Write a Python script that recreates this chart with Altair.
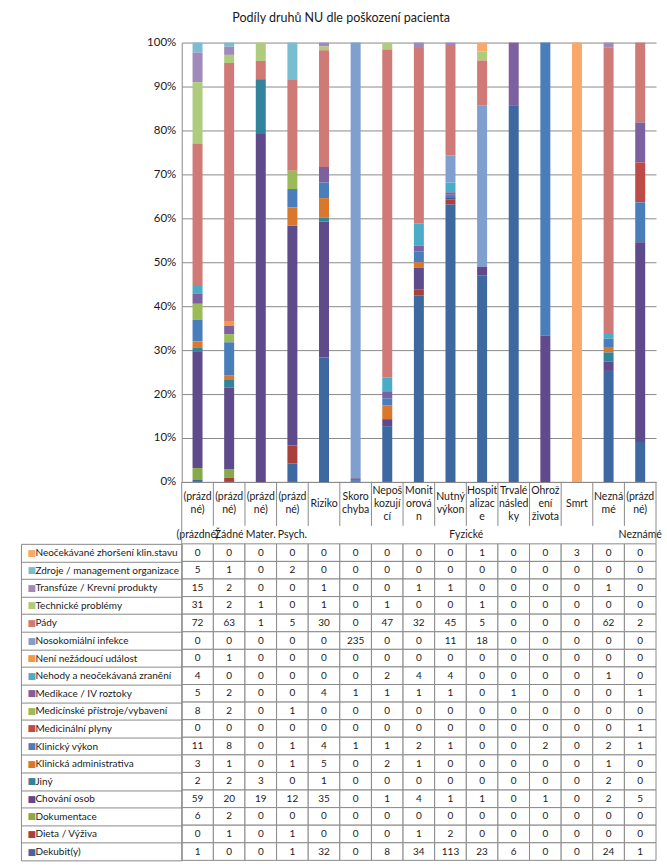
import altair as alt
import pandas as pd

TITLE = "Podíly druhů NU dle poškození pacienta"

# inner (level-1) category labels, wrapped as in the original
INNER_LABEL_LINES = [
    ["(prázd", "né)"], ["(prázd", "né)"], ["(prázd", "né)"], ["(prázd", "né)"],
    ["Riziko"], ["Skoro", "chyba"], ["Nepoš", "kozují", "cí"], ["Monit", "orová", "n"],
    ["Nutný", "výkon"], ["Hospit", "alizac", "e"], ["Trvalé", "násled", "ky"],
    ["Ohrož", "ení", "života"], ["Smrt"], ["Nezná", "mé"], ["(prázd", "né)"],
]
# outer (level-2) category labels
CATEGORY_OUTER = ["(prázdné)", "Žádné", "Mater.", "Psych."] + ["Fyzické"] * 10 + ["Neznámé"]

# series, in table order (top of the stack first)
SERIES = [
    "Neočekávané zhoršení klin.stavu",
    "Zdroje / management organizace",
    "Transfúze / Krevní produkty",
    "Technické problémy",
    "Pády",
    "Nosokomiální infekce",
    "Není nežádoucí událost",
    "Nehody a neočekávaná zranění",
    "Medikace / IV roztoky",
    "Medicínské přístroje/vybavení",
    "Medicinální plyny",
    "Klinický výkon",
    "Klinická administrativa",
    "Jiný",
    "Chování osob",
    "Dokumentace",
    "Dieta / Výživa",
    "Dekubit(y)",
]
COLORS = [
    "#F9A86A", "#79BDD3", "#A08AB9", "#AFCB7E", "#D07A78", "#7F9FCF",
    "#F79646", "#4BACC6", "#7D60A0", "#9BBB59", "#BE4B48", "#4A7EBB",
    "#D9772D", "#31849B", "#5F4A8B", "#86A94A", "#A8403C", "#3E69A0",
]
COUNTS = [
    [0, 0, 0, 0, 0, 0, 0, 0, 0, 1, 0, 0, 3, 0, 0],
    [5, 1, 0, 2, 0, 0, 0, 0, 0, 0, 0, 0, 0, 0, 0],
    [15, 2, 0, 0, 1, 0, 0, 1, 1, 0, 0, 0, 0, 1, 0],
    [31, 2, 1, 0, 1, 0, 1, 0, 0, 1, 0, 0, 0, 0, 0],
    [72, 63, 1, 5, 30, 0, 47, 32, 45, 5, 0, 0, 0, 62, 2],
    [0, 0, 0, 0, 0, 235, 0, 0, 11, 18, 0, 0, 0, 0, 0],
    [0, 1, 0, 0, 0, 0, 0, 0, 0, 0, 0, 0, 0, 0, 0],
    [4, 0, 0, 0, 0, 0, 2, 4, 4, 0, 0, 0, 0, 1, 0],
    [5, 2, 0, 0, 4, 1, 1, 1, 1, 0, 1, 0, 0, 0, 1],
    [8, 2, 0, 1, 0, 0, 0, 0, 0, 0, 0, 0, 0, 0, 0],
    [0, 0, 0, 0, 0, 0, 0, 0, 0, 0, 0, 0, 0, 0, 1],
    [11, 8, 0, 1, 4, 1, 1, 2, 1, 0, 0, 2, 0, 2, 1],
    [3, 1, 0, 1, 5, 0, 2, 1, 0, 0, 0, 0, 0, 1, 0],
    [2, 2, 3, 0, 1, 0, 0, 0, 0, 0, 0, 0, 0, 2, 0],
    [59, 20, 19, 12, 35, 0, 1, 4, 1, 1, 0, 1, 0, 2, 5],
    [6, 2, 0, 0, 0, 0, 0, 0, 0, 0, 0, 0, 0, 0, 0],
    [0, 1, 0, 1, 0, 0, 0, 1, 2, 0, 0, 0, 0, 0, 0],
    [1, 0, 0, 1, 32, 0, 8, 34, 113, 23, 6, 0, 0, 24, 1],
]

NCOL = len(CATEGORY_OUTER)
COLS = list(range(NCOL))
GRID = "#8a8a8a"
TXT = "#1a1a1a"
FONT = "Lato"
LINE_H = 13        # line height of the wrapped category labels (px)
LABEL_ROW_H = 44   # height of the category label row (px)
FIRST_LINE = 9     # px from the top of the label row to the first of 3 lines

rows = []
for i, (s, vals) in enumerate(zip(SERIES, COUNTS)):
    for c, v in enumerate(vals):
        rows.append({"series": s, "col": c, "count": v, "stack_idx": len(SERIES) - 1 - i})
df = pd.DataFrame(rows)

label_df = pd.DataFrame({
    "center": [c + 0.5 for c in COLS],
    "text": ["|".join(l) for l in INNER_LABEL_LINES],
    # first line position, in line units, so that each block is vertically centred
    "first": [(3 - len(l)) / 2 for l in INNER_LABEL_LINES],
})
edges_all = pd.DataFrame({"pos": list(range(NCOL + 1))})

# groups of the outer level
groups = []
start = 0
for c in range(1, NCOL + 1):
    if c == NCOL or CATEGORY_OUTER[c] != CATEGORY_OUTER[start]:
        groups.append({"label": CATEGORY_OUTER[start], "center": (start + c) / 2})
        start = c
groups_df = pd.DataFrame(groups)
edges_df = pd.DataFrame({"pos": [0, NCOL]})

color_expr = ""
for s, col in zip(SERIES, COLORS):
    color_expr += f"datum.value === '{s}' ? '{col}' : "
color_expr += "'#000000'"

xscale = alt.Scale(domain=COLS, paddingInner=0, paddingOuter=0)
gscale = alt.Scale(domain=[0, NCOL], nice=False, zero=False)
line_scale = alt.Scale(domain=[-FIRST_LINE / LINE_H, (LABEL_ROW_H - FIRST_LINE) / LINE_H],
                       reverse=True, nice=False, zero=False)

bars = alt.Chart(df[df["count"] > 0]).mark_bar(width=10).encode(
    x=alt.X("col:O", scale=xscale,
            axis=alt.Axis(title=None, labels=False, ticks=False, domainColor=GRID)),
    y=alt.Y("count:Q", stack="normalize", scale=alt.Scale(domain=[0, 1], nice=False),
            axis=alt.Axis(title=None, format="%", values=[i / 10 for i in range(11)], grid=True,
                          gridColor=GRID, ticks=False, domainColor=GRID, labelFontSize=11.5,
                          labelPadding=6, labelColor=TXT, labelFont=FONT)),
    color=alt.Color("series:N", scale=alt.Scale(domain=SERIES, range=COLORS), legend=None),
    order=alt.Order("stack_idx:Q", sort="ascending"),
).properties(width=475, height=440)

label_row = alt.layer(
    alt.Chart(label_df).mark_text(fontSize=10.5, font=FONT, color=TXT, lineBreak="|",
                                  lineHeight=LINE_H, baseline="middle").encode(
        x=alt.X("center:Q", scale=gscale, axis=None),
        y=alt.Y("first:Q", scale=line_scale, axis=None),
        text="text:N",
    ),
    alt.Chart(edges_all).mark_rule(color=GRID).encode(
        x=alt.X("pos:Q", scale=gscale, axis=None),
    ),
).properties(width=475, height=LABEL_ROW_H)

group_row = alt.layer(
    alt.Chart(groups_df).mark_text(fontSize=10.5, font=FONT, color=TXT).encode(
        x=alt.X("center:Q", scale=gscale, axis=None),
        text="label:N",
    ),
    alt.Chart(edges_df).mark_rule(color=GRID).encode(
        x=alt.X("pos:Q", scale=gscale, axis=None),
    ),
).properties(width=475, height=18)

cells = alt.Chart(df).mark_rect(fill="white", stroke=GRID, strokeWidth=1).encode(
    x=alt.X("col:O", scale=xscale, axis=None),
    y=alt.Y("series:N", sort=SERIES,
            scale=alt.Scale(type="band", domain=SERIES, paddingInner=0, paddingOuter=0),
            axis=alt.Axis(title=None, orient="left", labelAlign="left", labelPadding=-14,
                          tickSize=161, tickBand="extent", tickColor=GRID, domainColor=GRID,
                          labelFontSize=10, labelColor=TXT, labelFont=FONT, labelLimit=300)),
)
values = alt.Chart(df).mark_text(fontSize=10, font=FONT, color=TXT).encode(
    x=alt.X("col:O", scale=xscale, axis=None),
    y=alt.Y("series:N", sort=SERIES,
            scale=alt.Scale(type="band", domain=SERIES, paddingInner=0, paddingOuter=0),
            axis=alt.Axis(title=None, orient="left", offset=161, labelExpr="'■'",
                          labelColor={"expr": color_expr}, labelAlign="left", labelPadding=-6,
                          ticks=False, domainColor=GRID, labelFontSize=9, labelFont="DejaVu Sans")),
    text="count:Q",
)
table = alt.layer(cells, values).resolve_scale(y="independent").resolve_axis(y="independent").properties(
    width=475, height=317)

chart = alt.vconcat(bars, label_row, group_row, table, spacing=0, bounds="flush").properties(
    title=alt.TitleParams(TITLE, anchor="middle", frame="bounds", fontSize=12.5, fontWeight="normal",
                          font=FONT, color=TXT, offset=12),
    padding={"left": 20, "top": 11, "right": 5, "bottom": 2},
    background="white",
).configure_view(strokeWidth=0)

chart.save("out.html", embed_options={"renderer": "svg", "actions": False})
